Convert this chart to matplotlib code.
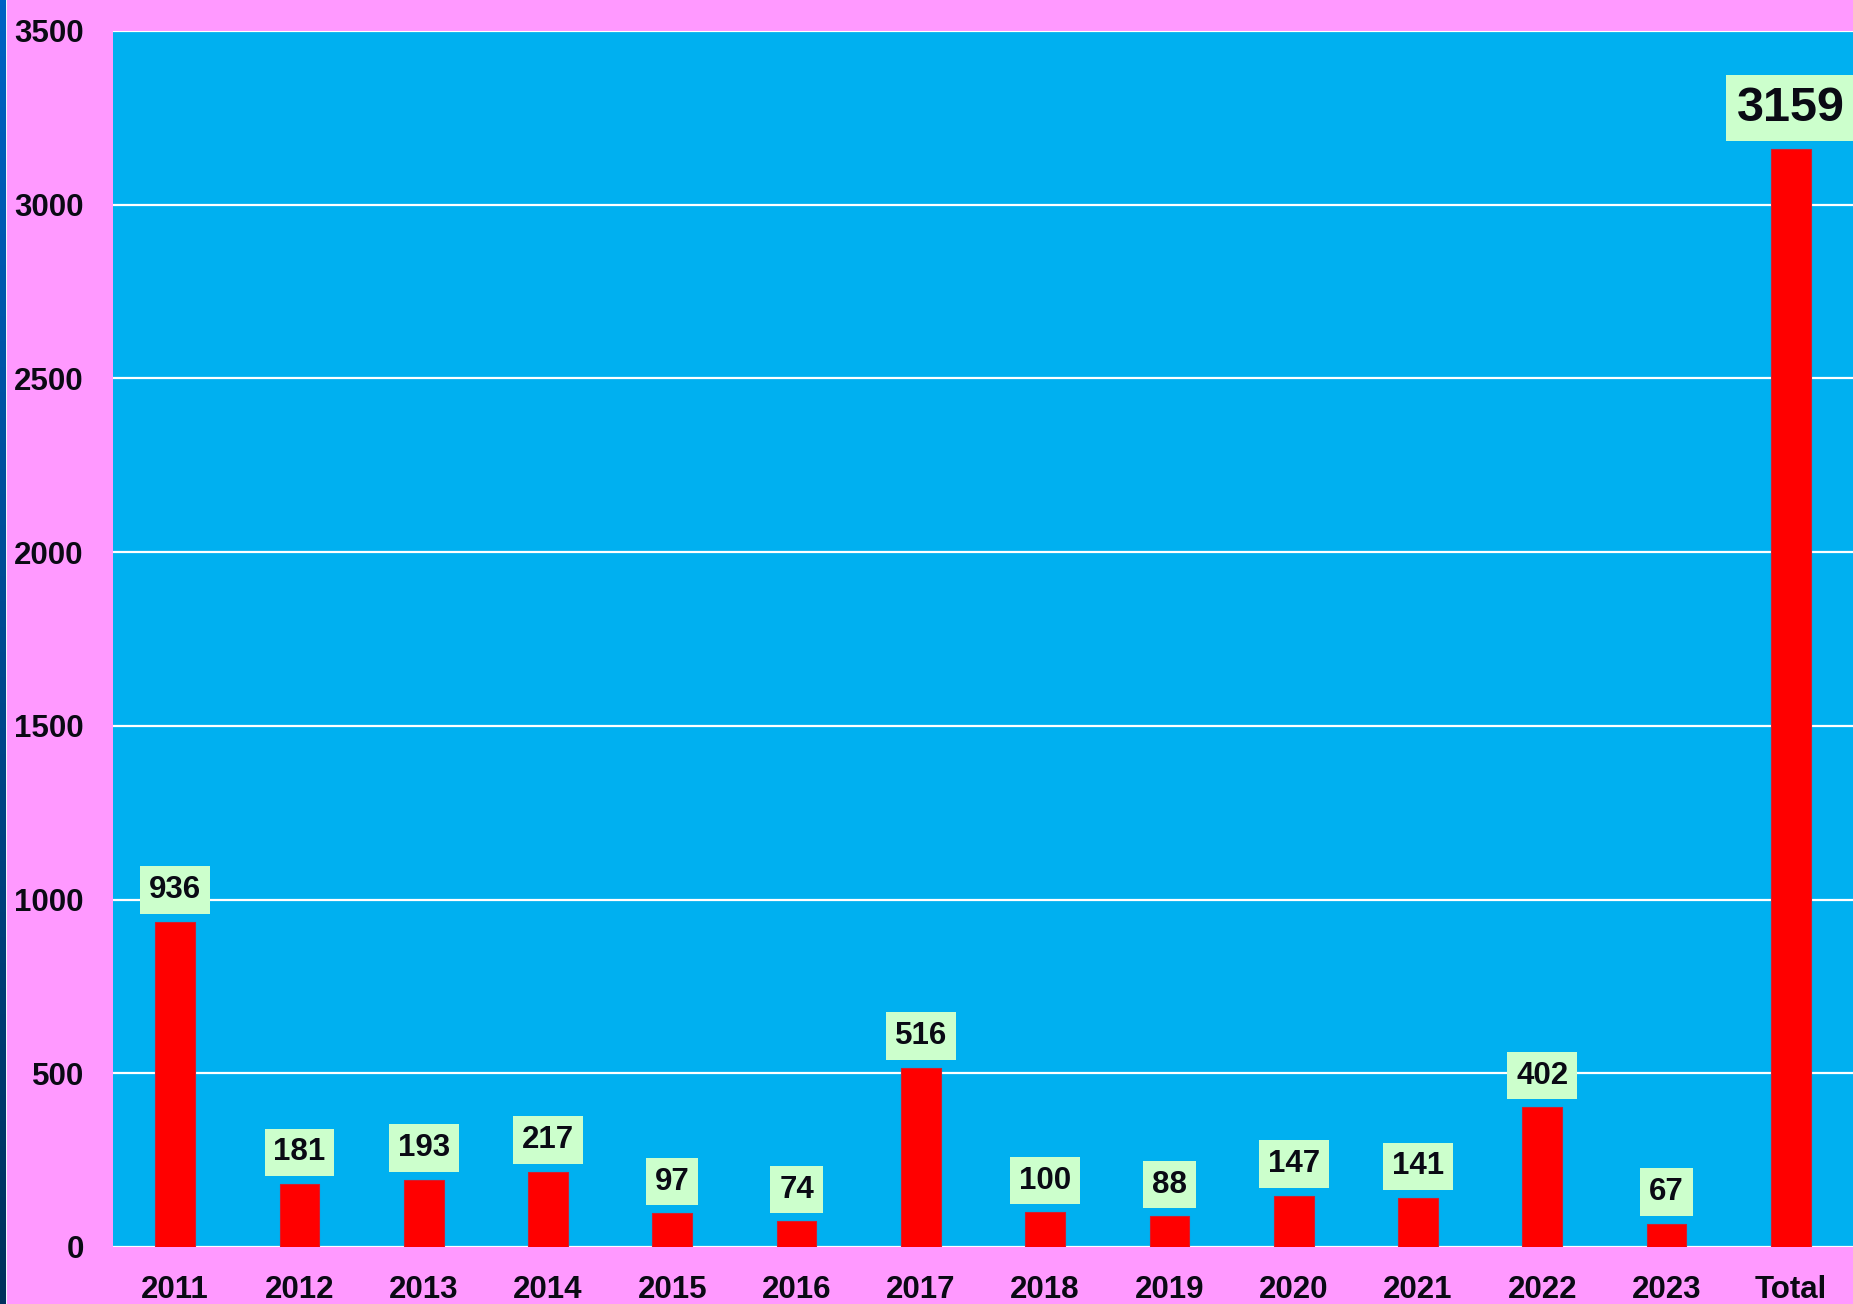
import matplotlib
matplotlib.use("Agg")
import matplotlib.pyplot as plt
import numpy as np
from matplotlib.colors import LinearSegmentedColormap

categories = ["2011", "2012", "2013", "2014", "2015", "2016", "2017",
              "2018", "2019", "2020", "2021", "2022", "2023", "Total"]
values = [936, 181, 193, 217, 97, 74, 516, 100, 88, 147, 141, 402, 67, 3159]
yticks = [0, 500, 1000, 1500, 2000, 2500, 3000, 3500]

plt.rcParams['font.family'] = ['Liberation Sans', 'DejaVu Sans']
plt.rcParams['font.weight'] = 'bold'

W, H = 1853, 1304
fig = plt.figure(figsize=(W / 100, H / 100), dpi=100, facecolor='#FF99FF')
ax = fig.add_axes([113 / W, 1 - 1247 / H, 1 - 113 / W, (1247 - 31) / H])
ax.set_facecolor('#00B0F0')

x = list(range(len(categories)))
ax.bar(x, values, width=0.32, color='#FF0000', edgecolor='#D02030',
       linewidth=0.8, zorder=3)

ax.set_xlim(-0.5, len(categories) - 0.5)
ax.set_ylim(0, 3500)
ax.set_yticks(yticks)
ax.set_yticklabels([str(t) for t in yticks])
ax.set_xticks(x)
ax.set_xticklabels(categories)
ax.grid(axis='y', color='white', linewidth=1.6, zorder=1)
ax.set_axisbelow(True)
for s in ax.spines.values():
    s.set_visible(False)
ax.tick_params(axis='both', length=0, labelsize=22.5, labelcolor='#0A0A14')
ax.tick_params(axis='x', pad=20)
ax.tick_params(axis='y', pad=21)
for lbl in ax.get_xticklabels() + ax.get_yticklabels():
    lbl.set_fontweight('bold')

for xi, v, c in zip(x, values, categories):
    big = (c == "Total")
    fs = 35 if big else 22.5
    pad = 0.22 if big else 0.28
    off = 8 / 1.389 + pad * fs
    ax.annotate(str(v), (xi, v), xytext=(0, off), textcoords='offset points',
                ha='center', va='bottom', fontsize=fs, fontweight='bold',
                color='#0A0A14', zorder=5, annotation_clip=False,
                bbox=dict(boxstyle=f'square,pad={pad}', facecolor='#CCFFCC',
                          edgecolor='none'))

# left edge strip (vertical gradient) with thin white line
sax = fig.add_axes([0, 0, 5.5 / W, 1])
sax.set_axis_off()
cmap = LinearSegmentedColormap.from_list('strip', ['#00305C', '#0062C4'])
sax.imshow(np.linspace(0, 1, 256).reshape(-1, 1), cmap=cmap, aspect='auto',
           origin='lower', extent=(0, 1, 0, 1))
wax = fig.add_axes([5.5 / W, 0, 1.5 / W, 1])
wax.set_axis_off()
wax.add_patch(plt.Rectangle((0, 0), 1, 1, transform=wax.transAxes,
                            facecolor='#F0F0F8', edgecolor='none'))

fig.savefig('out.png', dpi=100, facecolor=fig.get_facecolor())
